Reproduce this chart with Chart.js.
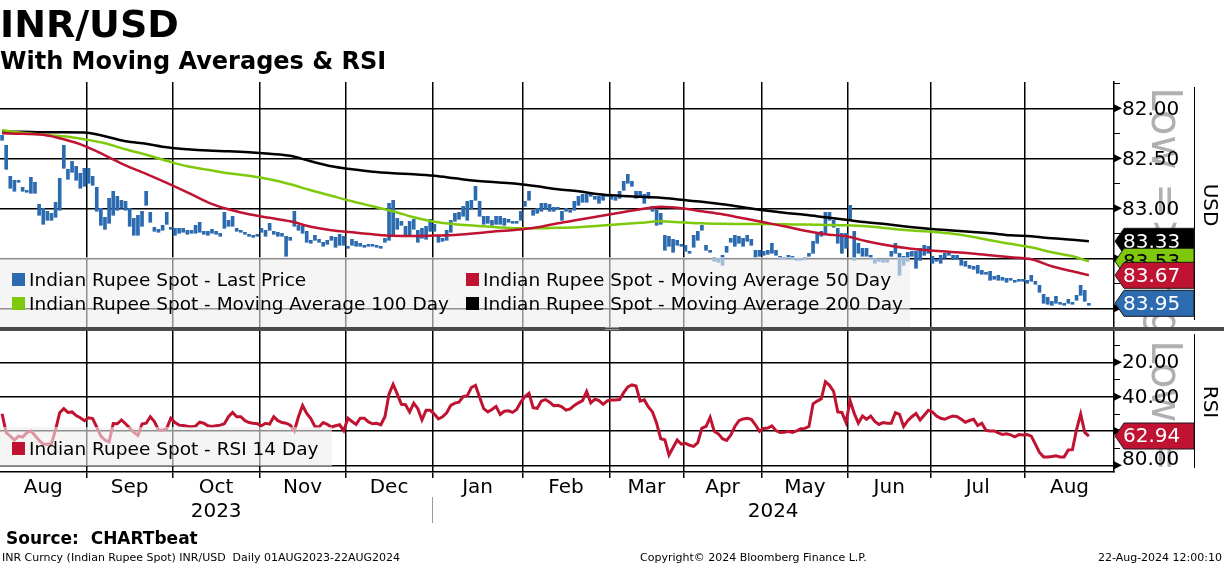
<!DOCTYPE html>
<html>
<head>
<meta charset="utf-8">
<script src="https://cdn.jsdelivr.net/npm/chart.js@4.4.1/dist/chart.umd.min.js"></script>
<style>
  html, body { margin: 0; padding: 0; background: #fff; overflow: hidden; }
  canvas { display: block; }
</style>
</head>
<body>
<canvas id="chart" width="1224" height="566"></canvas>
<script>
// month / year axis (trading-day index where each month starts)
const monthLabels = ['Aug', 'Sep', 'Oct', 'Nov', 'Dec', 'Jan', 'Feb', 'Mar', 'Apr', 'May', 'Jun', 'Jul', 'Aug'];
const monthStart = [0, 21, 42, 63, 84, 105, 127, 148, 166, 185, 206, 226, 249];
const yearLabels = ['2023', '2024'];
const yearStart = [0, 105];

const priceTicks = [82, 82.5, 83, 83.5, 84];
const priceMinor = [81.75, 82.25, 82.75, 83.25, 83.75];
const rsiTicks = [20, 40, 60, 80];
const rsiMinor = [10, 30, 50, 70];

// daily price bars (one per trading day), INR per USD
const priceLo = [
  82.27, 82.37, 82.68, 82.72, 82.72, 82.79, 82.82, 82.69, 82.74, 82.96, 83.00, 83.03, 83.05, 82.94, 82.70, 82.37, 82.61, 82.53, 82.58, 82.65, 82.60,
  82.60, 82.68, 82.79, 83.00, 83.09, 82.90, 82.83, 82.88, 82.92, 82.93, 83.00, 83.10, 83.07, 83.03, 82.83, 83.04, 83.19, 83.21, 83.17, 83.04, 83.19,
  83.20, 83.20, 83.20, 83.22, 83.22, 83.17, 83.14, 83.23, 83.23, 83.21, 83.23, 83.25, 83.04, 83.12, 83.08, 83.20, 83.22, 83.24, 83.26, 83.27, 83.26,
  83.20, 83.22, 83.15, 83.23, 83.24, 83.25, 83.28, 83.29, 83.03, 83.17, 83.18, 83.23, 83.32, 83.27, 83.31, 83.34, 83.32, 83.28, 83.29, 83.26, 83.28,
  83.38, 83.31, 83.33, 83.35, 83.37, 83.36, 83.36, 83.37, 83.38, 83.30, 82.95, 82.92, 83.10, 83.13, 83.18, 83.13, 83.11, 83.22, 83.20, 83.18, 83.11,
  83.16, 83.28, 83.30, 83.22, 83.12, 83.05, 83.04, 82.98, 82.93, 82.92, 82.78, 82.93, 83.08, 83.08, 83.12, 83.08, 83.08, 83.10, 83.11, 83.13, 83.13, 83.03,
  82.93, 82.83, 83.02, 83.00, 82.95, 82.95, 82.96, 82.99, 82.99, 83.03, 83.00, 83.02, 82.93, 82.88, 82.86, 82.86, 82.86, 82.88, 82.88, 82.87, 82.86,
  82.88, 82.89, 82.83, 82.73, 82.66, 82.73, 82.83, 82.83, 82.86, 82.84, 82.98, 83.02, 83.05, 83.27, 83.28, 83.31, 83.32, 83.36,
  83.37, 83.43, 83.27, 83.23, 83.17, 83.37, 83.42, 83.49, 83.50, 83.47, 83.38, 83.30, 83.27, 83.28, 83.30, 83.27, 83.31, 83.42, 83.42,
  83.43, 83.42, 83.35, 83.42, 83.48, 83.49, 83.47, 83.48, 83.50, 83.50, 83.49, 83.45, 83.33, 83.25, 83.23, 83.04, 83.04, 83.12, 83.20, 83.25, 83.25,
  82.97, 83.23, 83.35, 83.40, 83.40, 83.47, 83.50, 83.51, 83.51, 83.51, 83.43, 83.35, 83.45, 83.48, 83.44, 83.43, 83.43, 83.40, 83.37, 83.38,
  83.48, 83.51, 83.47, 83.45, 83.43, 83.47, 83.47, 83.51, 83.53, 83.57, 83.58, 83.57, 83.62, 83.64, 83.63, 83.68, 83.67, 83.69, 83.70, 83.70, 83.72, 83.71, 83.71,
  83.72, 83.67, 83.73, 83.77, 83.86, 83.89, 83.93, 83.88, 83.94, 83.95, 83.91, 83.94, 83.87, 83.77, 83.82, 83.95
];
const priceHi = [
  82.32, 82.61, 82.80, 82.83, 82.74, 82.83, 82.84, 82.85, 82.85, 83.07, 83.16, 83.12, 83.12, 83.09, 83.02, 82.60, 82.71, 82.64, 82.72, 82.80, 82.78,
  82.75, 82.77, 83.03, 83.17, 83.21, 83.15, 83.07, 83.02, 83.00, 83.02, 83.18, 83.27, 83.27, 83.18, 82.97, 83.14, 83.23, 83.24, 83.22, 83.16, 83.21,
  83.27, 83.25, 83.24, 83.26, 83.25, 83.25, 83.24, 83.26, 83.27, 83.25, 83.26, 83.28, 83.20, 83.18, 83.18, 83.23, 83.23, 83.26, 83.27, 83.28, 83.28,
  83.24, 83.28, 83.22, 83.26, 83.28, 83.28, 83.48, 83.32, 83.18, 83.22, 83.25, 83.34, 83.35, 83.32, 83.34, 83.38, 83.36, 83.32, 83.39, 83.37, 83.37,
  83.39, 83.37, 83.38, 83.38, 83.38, 83.38, 83.38, 83.38, 83.40, 83.34, 83.32, 83.28, 83.21, 83.17, 83.27, 83.27, 83.21, 83.34, 83.30, 83.31, 83.23,
  83.23, 83.34, 83.33, 83.32, 83.24, 83.13, 83.11, 83.08, 83.12, 83.01, 82.92, 83.08, 83.16, 83.15, 83.17, 83.16, 83.16, 83.17, 83.14, 83.15, 83.14, 83.12,
  82.98, 82.92, 83.07, 83.05, 83.03, 83.01, 83.03, 83.03, 83.01, 83.12, 83.03, 83.03, 83.02, 82.97, 82.94, 82.94, 82.88, 82.91, 82.95, 82.92, 82.88,
  82.91, 82.92, 82.90, 82.82, 82.75, 82.78, 82.90, 82.88, 82.95, 82.90, 83.03, 83.17, 83.16, 83.42, 83.38, 83.44, 83.37, 83.38,
  83.43, 83.44, 83.39, 83.32, 83.22, 83.42, 83.44, 83.53, 83.54, 83.57, 83.44, 83.34, 83.38, 83.35, 83.38, 83.33, 83.37, 83.49, 83.48,
  83.47, 83.46, 83.45, 83.47, 83.51, 83.51, 83.49, 83.51, 83.52, 83.52, 83.51, 83.48, 83.45, 83.35, 83.28, 83.25, 83.12, 83.19, 83.35, 83.45, 83.40,
  83.12, 83.52, 83.45, 83.48, 83.48, 83.50, 83.55, 83.53, 83.54, 83.54, 83.48, 83.45, 83.67, 83.57, 83.53, 83.48, 83.60, 83.52, 83.47, 83.45,
  83.55, 83.53, 83.55, 83.50, 83.47, 83.51, 83.51, 83.57, 83.58, 83.60, 83.61, 83.65, 83.66, 83.65, 83.72, 83.71, 83.72, 83.72, 83.74, 83.72, 83.73, 83.72, 83.73,
  83.75, 83.73, 83.76, 83.84, 83.95, 83.96, 83.97, 83.95, 83.96, 83.97, 83.95, 83.96, 83.92, 83.87, 83.93, 83.97
];

// moving averages, read every 5 trading days
const maIdx = [0, 5, 10, 15, 20, 25, 30, 35, 40, 45, 50, 55, 60, 65, 70, 75, 80, 85, 90, 95, 100, 105, 110, 115, 120, 125, 130,
  135, 140, 145, 150, 155, 160, 165, 170, 175, 180, 185, 190, 195, 200, 205, 210, 215, 220, 225, 230, 235, 240, 245, 250, 255, 260, 264];
const ma50 = [82.25, 82.255, 82.265, 82.31, 82.375, 82.47, 82.57, 82.655, 82.745, 82.84, 82.94, 83.01, 83.06, 83.095, 83.13, 83.185, 83.22,
  83.24, 83.26, 83.275, 83.277, 83.273, 83.268, 83.25, 83.23, 83.215, 83.19, 83.15, 83.115, 83.08, 83.045, 83.01, 82.985, 83.0, 83.03,
  83.06, 83.10, 83.14, 83.18, 83.225, 83.26, 83.28, 83.33, 83.37, 83.40, 83.42, 83.435, 83.45, 83.47, 83.49, 83.51, 83.58, 83.63, 83.67];
const ma100 = [82.22, 82.245, 82.265, 82.28, 82.31, 82.35, 82.41, 82.465, 82.525, 82.58, 82.615, 82.65, 82.675, 82.71, 82.76, 82.82, 82.875,
  82.93, 82.98, 83.03, 83.09, 83.135, 83.16, 83.175, 83.19, 83.20, 83.20, 83.195, 83.19, 83.175, 83.16, 83.145, 83.13, 83.14, 83.15,
  83.155, 83.157, 83.157, 83.16, 83.162, 83.166, 83.17, 83.18, 83.20, 83.22, 83.232, 83.25, 83.28, 83.32, 83.355, 83.39, 83.44, 83.48, 83.53];
const ma200 = [82.233, 82.235, 82.24, 82.24, 82.242, 82.28, 82.33, 82.355, 82.39, 82.41, 82.423, 82.43, 82.44, 82.455, 82.475, 82.53, 82.58,
  82.61, 82.635, 82.65, 82.66, 82.675, 82.70, 82.725, 82.74, 82.755, 82.78, 82.81, 82.83, 82.86, 82.875, 82.885, 82.895, 82.915, 82.935,
  82.96, 82.99, 83.02, 83.045, 83.065, 83.09, 83.115, 83.14, 83.16, 83.185, 83.205, 83.22, 83.235, 83.25, 83.27, 83.28, 83.30, 83.315, 83.33];

// RSI 14 day, one per trading day
const rsi14 = [
  50, 61, 63, 65.3, 63, 63.6, 61, 60, 62.6, 65.5, 67.7, 67.7, 67.5, 59.2, 49.4, 47, 49.2, 48.9, 51, 52.3,
  54, 52.3, 52.8, 57.7, 63, 65.3, 66.4, 55.7, 55.8, 53.6, 55.8, 58.3, 60.8, 62.6, 56, 55.5, 51.7, 54.5, 59.4, 59.6,
  58.5, 52.6, 55.1, 56.6, 56.8, 57.2, 57.5, 57.2, 54.9, 55.5, 57, 57.4, 57, 56.6, 55.8, 51.7, 49.2, 51.7, 51.7, 54,
  55.1, 55.5, 55.8, 57, 55.5, 56, 51.7, 54, 55.1, 55.5, 56.6, 60, 51.7, 45.1, 49.8, 52.8, 57.4, 57.7, 55.1, 56.2,
  57.7, 57, 56.4, 59.8, 52.6, 54.5, 56.2, 52.6, 52.6, 54.7, 55.8, 55.5, 56.4, 51.7, 38.5, 32.8, 38.5, 44.5, 44.7, 48.9,
  43.8, 47, 53.6, 47.9, 47.9, 50.2, 53, 51.7, 49.4, 45.1, 43.8, 43.2, 40, 39.4, 34.7, 33.4, 40.4, 47, 48.9, 47.5,
  45.7, 50.4, 48.5, 48.3, 49.2, 47.5, 43.2, 40, 38.1, 46.4, 46.8, 42.6, 41.7, 43.2, 45.3, 45.1, 46, 47.9, 47.2, 45.1,
  43.6, 42.3, 37, 43.6, 41.5, 42.3, 44.5, 42.5, 41.9, 41.9, 41.7, 37.7, 34.3, 33.2, 33.8, 42.6, 41.9, 46, 48.9, 55.5,
  64.5, 65.1, 74.0, 69.6, 65.3, 67.7, 67.2, 68.3, 69, 66.8, 58.3, 57.4, 52.1, 60.2, 61.7, 64.5, 65.5, 62.5, 57.4, 54,
  53, 52.6, 53.2, 56.4, 60.2, 58.5, 58.3, 57, 59.8, 60.9, 60.8, 60.2, 60.8, 60, 58.7, 58.5, 57.4, 44.2, 42.6, 41.3,
  31.3, 33.4, 37, 48.9, 49.2, 55.1, 42.3, 49.8, 55.5, 51.3, 53.2, 51.3, 54.5, 56.2, 55.1, 55.5, 55.5, 49.4, 50.4, 57.4,
  54, 51.7, 49.8, 53.6, 50.8, 47.9, 48.9, 51.3, 52.6, 53.2, 52.1, 51.3, 51.7, 53.2, 54.9, 53.9, 53.2, 56.8, 55.5, 59.6,
  60, 60, 61.1, 62.1, 61.7, 62.3, 63.4, 62.1, 62.3, 62.1, 63, 67.7, 72.5, 75.1, 75.1, 74.9, 74.5, 75.1, 75.1, 71.1,
  70.9, 59.2, 50.2, 60.8, 62.94
];

const BLUE = '#2c6bb0';
const RED = '#bf1331';
const GREEN = '#7fc90c';
const FONT = '"DejaVu Sans", sans-serif';

const last = a => a[a.length - 1];

function drawWatermark(ctx, top, bottom, start) {
  ctx.save();
  ctx.beginPath();
  ctx.rect(1116, top, 78, bottom - top);
  ctx.clip();
  ctx.translate(1152, start);
  ctx.rotate(Math.PI / 2);
  ctx.font = '42px ' + FONT;
  ctx.fillStyle = '#b0b0b0';
  ctx.textAlign = 'left';
  ctx.textBaseline = 'alphabetic';
  ctx.fillText('Low => High', 0, 0);
  ctx.restore();
}

function drawTag(ctx, y, fill, textColor, text) {
  ctx.beginPath();
  ctx.moveTo(1115, y);
  ctx.lineTo(1124, y - 13);
  ctx.lineTo(1194, y - 13);
  ctx.lineTo(1194, y + 13);
  ctx.lineTo(1124, y + 13);
  ctx.closePath();
  ctx.fillStyle = fill;
  ctx.fill();
  ctx.strokeStyle = '#1a1a1a';
  ctx.lineWidth = 1;
  ctx.stroke();
  ctx.fillStyle = textColor;
  ctx.font = '20px ' + FONT;
  ctx.textAlign = 'left';
  ctx.textBaseline = 'middle';
  ctx.fillText(text, 1123, y + 1);
}

function drawAxisSide(ctx, scale, major, minor) {
  ctx.fillStyle = '#000';
  ctx.strokeStyle = '#000';
  ctx.lineWidth = 1;
  minor.forEach(v => {
    const y = Math.round(scale.getPixelForValue(v)) + 0.5;
    ctx.beginPath();
    ctx.moveTo(1114, y);
    ctx.lineTo(1120, y);
    ctx.stroke();
  });
  ctx.font = '20px ' + FONT;
  ctx.textAlign = 'left';
  ctx.textBaseline = 'middle';
  major.forEach(v => {
    const y = scale.getPixelForValue(v);
    ctx.beginPath();
    ctx.moveTo(1114, y - 4);
    ctx.lineTo(1122, y);
    ctx.lineTo(1114, y + 4);
    ctx.closePath();
    ctx.fill();
    const ly = Math.min(y, scale.bottom - 13);
    ctx.fillText(v.toFixed(2), 1122, ly + 1);
  });
}

function legendItem(ctx, x, y, color, text) {
  ctx.fillStyle = color;
  ctx.fillRect(x, y - 7, 13, 13);
  ctx.fillStyle = '#000';
  ctx.font = '18.5px ' + FONT;
  ctx.textAlign = 'left';
  ctx.textBaseline = 'middle';
  ctx.fillText(text, x + 17, y + 1);
}

const overlay = {
  id: 'overlay',
  beforeDraw(chart) {
    const ctx = chart.ctx;
    const ys = chart.scales.y, yr = chart.scales.yr;
    drawWatermark(ctx, ys.top, ys.bottom - 2, ys.top + 5);
    drawWatermark(ctx, yr.top + 2, yr.bottom, yr.top + 11);
  },
  afterDatasetsDraw(chart) {
    const ctx = chart.ctx;
    const ys = chart.scales.y;
    ctx.save();
    ctx.fillStyle = 'rgba(238,238,238,0.6)';
    ctx.fillRect(0, 257, 910, ys.bottom - 257);
    legendItem(ctx, 12, 280, BLUE, 'Indian Rupee Spot - Last Price');
    legendItem(ctx, 466, 280, RED, 'Indian Rupee Spot - Moving Average 50 Day');
    legendItem(ctx, 12, 304, GREEN, 'Indian Rupee Spot - Moving Average 100 Day');
    legendItem(ctx, 466, 304, '#000', 'Indian Rupee Spot - Moving Average 200 Day');
    ctx.fillStyle = 'rgba(238,238,238,0.6)';
    ctx.fillRect(0, 427, 332, 39);
    legendItem(ctx, 12, 449, RED, 'Indian Rupee Spot - RSI 14 Day');
    ctx.restore();
  },
  afterDraw(chart) {
    const ctx = chart.ctx;
    const xs = chart.scales.x, ys = chart.scales.y, yr = chart.scales.yr;
    ctx.save();

    // separator between panels
    ctx.fillStyle = '#4a4a4a';
    ctx.fillRect(0, ys.bottom - 2, 1224, 4);
    ctx.strokeStyle = '#9a9a9a';
    ctx.lineWidth = 1;
    [ys.bottom - 1.5, ys.bottom + 0.5].forEach(y => {
      ctx.beginPath(); ctx.moveTo(605, y); ctx.lineTo(619, y); ctx.stroke();
    });

    // right axis
    drawAxisSide(ctx, ys, priceTicks, priceMinor);
    drawAxisSide(ctx, yr, rsiTicks, rsiMinor);
    ctx.strokeStyle = '#000';
    ctx.lineWidth = 1;
    ctx.beginPath();
    ctx.moveTo(1194.5, ys.top + 5); ctx.lineTo(1194.5, ys.bottom - 9);
    ctx.moveTo(1194.5, yr.top + 5); ctx.lineTo(1194.5, yr.bottom - 4);
    ctx.stroke();

    // last value tags
    drawTag(ctx, ys.getPixelForValue(last(ma200)), '#000', '#fff', last(ma200).toFixed(2));
    drawTag(ctx, ys.getPixelForValue(last(ma100)), GREEN, '#000', last(ma100).toFixed(2));
    drawTag(ctx, ys.getPixelForValue(last(ma50)), RED, '#fff', last(ma50).toFixed(2));
    drawTag(ctx, ys.getPixelForValue(last(priceLo)), BLUE, '#fff', last(priceLo).toFixed(2));
    drawTag(ctx, yr.getPixelForValue(last(rsi14)), RED, '#fff', last(rsi14).toFixed(2));

    // axis titles
    ctx.fillStyle = '#000';
    ctx.font = '20px ' + FONT;
    ctx.textAlign = 'center';
    ctx.textBaseline = 'middle';
    [['USD', 205], ['RSI', 402]].forEach(([t, y]) => {
      ctx.save();
      ctx.translate(1209, y);
      ctx.rotate(Math.PI / 2);
      ctx.fillText(t, 0, 0);
      ctx.restore();
    });

    // month labels centred in each month
    monthLabels.forEach((m, k) => {
      const a = Math.max(xs.left, xs.getPixelForValue(monthStart[k] - 0.5));
      const b = k + 1 < monthStart.length ? xs.getPixelForValue(monthStart[k + 1] - 0.5) : xs.right;
      ctx.fillText(m, (a + b) / 2, 488);
    });
    yearLabels.forEach((yl, k) => {
      const a = Math.max(xs.left, xs.getPixelForValue(yearStart[k] - 0.5));
      const b = k + 1 < yearStart.length ? xs.getPixelForValue(yearStart[k + 1] - 0.5) : xs.right;
      ctx.fillText(yl, (a + b) / 2, 512);
    });
    const sepX = Math.round(xs.getPixelForValue(yearStart[1] - 0.5)) + 0.5;
    ctx.strokeStyle = '#9a9a9a';
    ctx.beginPath(); ctx.moveTo(sepX, 497); ctx.lineTo(sepX, 523); ctx.stroke();

    // titles
    ctx.fillStyle = '#000';
    ctx.textAlign = 'left';
    ctx.textBaseline = 'alphabetic';
    ctx.font = 'bold 38px ' + FONT;
    ctx.fillText('INR/USD', 0, 37);
    ctx.font = 'bold 24px ' + FONT;
    ctx.fillText('With Moving Averages & RSI', 0, 69);

    // footer
    ctx.font = 'bold 17px ' + FONT;
    ctx.fillText('Source:  CHARTbeat', 6, 544);
    ctx.font = '11px ' + FONT;
    ctx.fillText('INR Curncy (Indian Rupee Spot) INR/USD  Daily 01AUG2023-22AUG2024', 2, 561);
    ctx.fillText('Copyright\u00A9 2024 Bloomberg Finance L.P.', 640, 561);
    ctx.textAlign = 'right';
    ctx.fillText('22-Aug-2024 12:00:10', 1222, 561);
    ctx.restore();
  }
};

new Chart(document.getElementById('chart').getContext('2d'), {
  data: {
    datasets: [
      {
        type: 'line', label: 'RSI 14 Day', yAxisID: 'yr', order: 0,
        data: rsi14.map((v, i) => ({ x: i, y: v })),
        borderColor: RED, borderWidth: 3, pointRadius: 0, tension: 0
      },
      {
        type: 'line', label: 'Moving Average 50 Day', yAxisID: 'y', order: 1,
        data: maIdx.map((d, k) => ({ x: d, y: ma50[k] })),
        borderColor: RED, borderWidth: 2.5, pointRadius: 0, cubicInterpolationMode: 'monotone'
      },
      {
        type: 'line', label: 'Moving Average 100 Day', yAxisID: 'y', order: 2,
        data: maIdx.map((d, k) => ({ x: d, y: ma100[k] })),
        borderColor: GREEN, borderWidth: 2.5, pointRadius: 0, cubicInterpolationMode: 'monotone'
      },
      {
        type: 'line', label: 'Moving Average 200 Day', yAxisID: 'y', order: 3,
        data: maIdx.map((d, k) => ({ x: d, y: ma200[k] })),
        borderColor: '#000', borderWidth: 2.5, pointRadius: 0, cubicInterpolationMode: 'monotone'
      },
      {
        type: 'bar', label: 'Last Price', yAxisID: 'y', order: 4,
        data: priceLo.map((lo, i) => ({ x: i, y: [lo, priceHi[i]] })),
        backgroundColor: BLUE, barThickness: 3, minBarLength: 2
      }
    ]
  },
  options: {
    responsive: false,
    animation: false,
    events: [],
    layout: { padding: { top: 82, left: 0, right: 0, bottom: 0 } },
    plugins: { legend: { display: false }, tooltip: { enabled: false } },
    scales: {
      x: {
        type: 'linear', min: -0.5, max: 270.1, offset: false,
        afterBuildTicks: s => { s.ticks = monthStart.slice(1).map(i => ({ value: i - 0.5 })); },
        afterFit: s => { s.height = 94; },
        ticks: { display: false },
        grid: { offset: false, color: '#000', lineWidth: 1.5, drawTicks: true, tickLength: 6, tickColor: '#000' },
        border: { color: '#000', width: 1.5 }
      },
      y: {
        type: 'linear', position: 'right', stack: 'panels', stackWeight: 247,
        reverse: true, min: 81.737, max: 84.207,
        afterBuildTicks: s => { s.ticks = priceTicks.map(v => ({ value: v })); },
        afterFit: s => { s.width = 110; },
        ticks: { display: false },
        grid: { color: '#000', lineWidth: 1.5, drawTicks: false },
        border: { color: '#000', width: 1.5 }
      },
      yr: {
        type: 'linear', position: 'right', stack: 'panels', stackWeight: 143,
        reverse: true, min: 0.61, max: 83.9,
        afterBuildTicks: s => { s.ticks = rsiTicks.map(v => ({ value: v })); },
        afterFit: s => { s.width = 110; },
        ticks: { display: false },
        grid: { color: '#000', lineWidth: 1.5, drawTicks: false },
        border: { color: '#000', width: 1.5 }
      }
    }
  },
  plugins: [overlay]
});
</script>
</body>
</html>
